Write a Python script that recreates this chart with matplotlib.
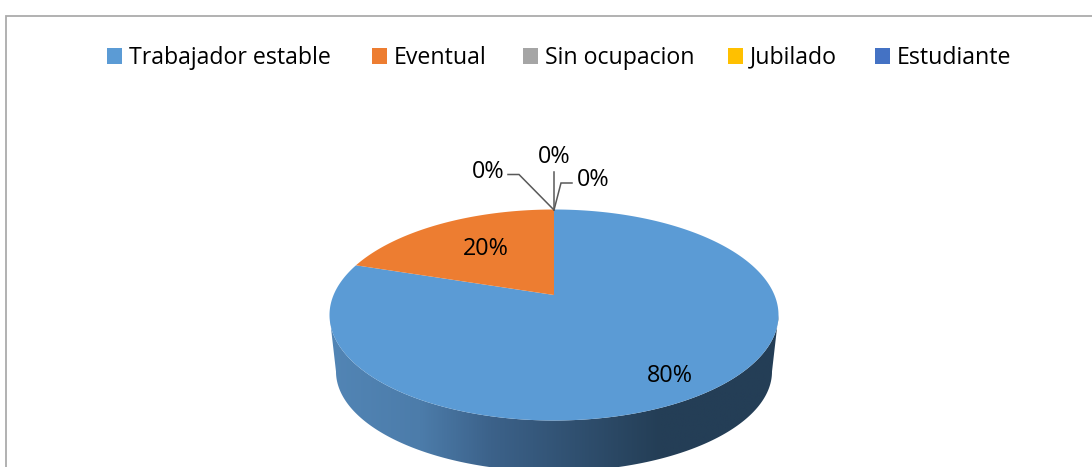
import numpy as np
import matplotlib
matplotlib.use("Agg")
import matplotlib.pyplot as plt
from matplotlib.patches import Patch, Polygon
from matplotlib.colors import LinearSegmentedColormap

categories = ["Trabajador estable", "Eventual", "Sin ocupacion", "Jubilado", "Estudiante"]
values = [80, 20, 0, 0, 0]
colors = ["#5B9BD5", "#ED7D31", "#A5A5A5", "#FFC000", "#4472C4"]

W, H = 1092, 467
plt.rcParams["font.family"] = ["Open Sans", "DejaVu Sans"]
fig = plt.figure(figsize=(W / 100, H / 100), dpi=100, facecolor="white")

bg = fig.add_axes([0, 0, 1, 1], zorder=0)
bg.set_xlim(0, W); bg.set_ylim(H, 0); bg.axis("off")

# Chart frame
bg.plot([5.5, 5.5, W + 5], [H + 5, 15.5, 15.5], color="#ABABAB", lw=1.3, solid_joinstyle="miter")

# Tilted disc: a circle under perspective projection
cx, apex_y, top_y, bot_y, half_w = 554, 295, 209.5, 420.5, 224.5
a, b = apex_y - top_y, bot_y - apex_y
k = (b - a) / (b + a)
B = a * (1 + k)
A = half_w * np.sqrt(1 - k ** 2)


def project(theta_deg):
    th = np.radians(theta_deg)
    u, v = np.cos(th), np.sin(th)
    d = 1 + k * v
    return np.c_[cx + A * u / d, apex_y - B * v / d]


# Side wall of the disc
ecx, ecy = cx, (top_y + bot_y) / 2
erx, ery = half_w, (bot_y - top_y) / 2
bcy, brx, bry = 371.5, 218, 100
t = np.linspace(np.pi, 0, 300)
top = np.c_[ecx + erx * np.cos(t), ecy + ery * np.sin(t)]
bottom = np.c_[ecx + brx * np.cos(t), bcy + bry * np.sin(t)]
wall = Polygon(np.r_[top, bottom[::-1]], closed=True, transform=bg.transData, fc="none", ec="none")
bg.add_patch(wall)
cmap = LinearSegmentedColormap.from_list(
    "wall", [(0, "#5285B5"), (0.2, "#4C7CAA"), (0.357, "#3C628A"), (0.736, "#243E56"), (1, "#243E56")])
img = bg.imshow(np.linspace(0, 1, 256)[None, :], cmap=cmap, aspect="auto",
                extent=[cx - half_w, cx + half_w, H + 10, ecy - 5], zorder=1)
img.set_clip_path(wall)
bg.set_xlim(0, W); bg.set_ylim(H, 0)

# Pie: the library lays out the angles, the wedges are then re-projected
layout_ax = fig.add_axes([0, 0, 0.01, 0.01], zorder=-1)
wedges, _ = layout_ax.pie(values, colors=colors, startangle=90, counterclock=False)
layout_ax.set_visible(False)
for w in wedges:
    if w.theta2 - w.theta1 <= 0:
        continue
    pts = project(np.linspace(w.theta1, w.theta2, 300))
    bg.add_patch(Polygon(np.r_[[[cx, apex_y]], pts], closed=True, fc=w.get_facecolor(), ec="none", zorder=2))

# Labels and leaders
total = sum(values)
label_fs = 16.8
pct = [f"{v / total:.0%}" for v in values]
kw = dict(ha="center", va="center", fontsize=label_fs, color="black", zorder=4)
bg.text(670, 376, pct[0], **kw)
bg.text(486, 249, pct[1], **kw)
bg.text(488.5, 172, pct[2], **kw)
bg.text(554, 157, pct[3], **kw)
bg.text(593, 180, pct[4], **kw)
lead = dict(color="#595959", lw=1.1, solid_joinstyle="miter", zorder=3)
bg.plot([508, 519, 554], [174.5, 174.5, 210], **lead)
bg.plot([554, 554], [172, 210], **lead)
bg.plot([572, 561, 554], [183, 183, 210], **lead)

handles = [Patch(fc=c, ec="none") for c in colors]
leg = fig.legend(handles, categories, ncols=5, loc="center", bbox_to_anchor=(559 / W, 1 - 58 / H),
                 frameon=False, fontsize=16.7, handlelength=0.65, handleheight=0.65,
                 handletextpad=0.32, columnspacing=1.6, borderpad=0, labelcolor="black")
# Per-entry nudges (pixels) to the reference's uneven legend spacing and shared baseline
text_dx = [0.5, 4, 3, -1, -1]
text_dy = [0, 0, 0, 0.8, 0]
handle_dx = [1, 4.5, 3, -1, 0]
for txt, hd, dx, dy, hx in zip(leg.get_texts(), leg.legend_handles, text_dx, text_dy, handle_dx):
    txt.set_position((dx, dy))
    hd.set_x(hd.get_x() + hx * 0.72)

fig.savefig("out.png", dpi=100)
